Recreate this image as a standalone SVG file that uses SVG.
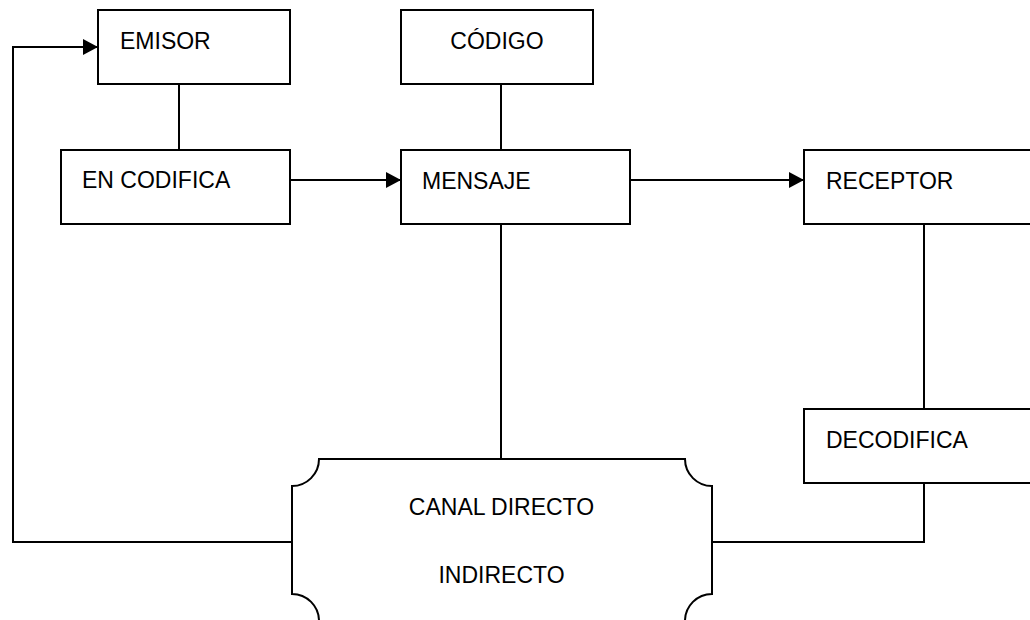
<svg xmlns="http://www.w3.org/2000/svg" width="1030" height="620" viewBox="0 0 1030 620">
<style>
.box{fill:#fff;stroke:#000;stroke-width:2}
.ln{fill:none;stroke:#000;stroke-width:2}
.t{font-family:"Liberation Sans",Arial,sans-serif;font-size:23px;fill:#000}
.c{text-anchor:middle}
</style>
<defs>
<marker id="ah" markerUnits="userSpaceOnUse" markerWidth="16" markerHeight="16" refX="15" refY="8" orient="auto">
<path d="M0,0 L15,8 L0,16 Z" fill="#000"/>
</marker>
</defs>
<rect width="1030" height="620" fill="#fff"/>
<g id="connectors">
<path class="ln" d="M179,84 V150"/>
<path class="ln" d="M501,84 V150"/>
<path class="ln" d="M501,224 V459"/>
<path class="ln" d="M924,224 V409"/>
<path class="ln" d="M924,483 V542 H712"/>
<path class="ln" d="M292,542 H13 V47 H98" marker-end="url(#ah)"/>
<path class="ln" d="M290,180 H401" marker-end="url(#ah)"/>
<path class="ln" d="M630,180 H804" marker-end="url(#ah)"/>
</g>
<g id="emisor">
<rect class="box" x="98" y="10" width="192" height="74"/>
<text class="t" x="120" y="49">EMISOR</text>
</g>
<g id="codigo">
<rect class="box" x="401" y="10" width="192" height="74"/>
<text class="t c" x="497" y="49">CÓDIGO</text>
</g>
<g id="encodifica">
<rect class="box" x="61" y="150" width="229" height="74"/>
<text class="t" x="82" y="188">EN CODIFICA</text>
</g>
<g id="mensaje">
<rect class="box" x="401" y="150" width="229" height="74"/>
<text class="t" x="422" y="189">MENSAJE</text>
</g>
<g id="receptor">
<rect class="box" x="804" y="150" width="240" height="74"/>
<text class="t" x="826" y="189">RECEPTOR</text>
</g>
<g id="decodifica">
<rect class="box" x="804" y="409" width="240" height="74"/>
<text class="t" x="826" y="448">DECODIFICA</text>
</g>
<g id="canal">
<path class="box" d="M319,459 H685 A27,27 0 0 0 712,486 V594 A27,27 0 0 0 685,621 H319 A27,27 0 0 0 292,594 V486 A27,27 0 0 0 319,459 Z"/>
<text class="t c" x="501.5" y="515">CANAL DIRECTO</text>
<text class="t c" x="501.5" y="583">INDIRECTO</text>
</g>
</svg>
